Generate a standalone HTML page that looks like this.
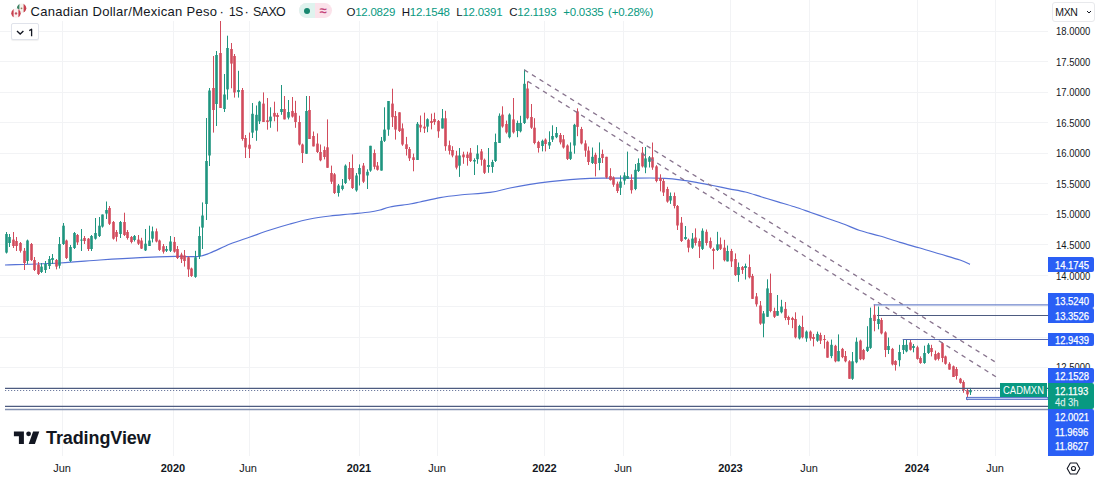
<!DOCTYPE html>
<html><head><meta charset="utf-8"><style>
html,body{margin:0;padding:0;background:#fff;}
body{width:1101px;height:484px;position:relative;overflow:hidden;font-family:"Liberation Sans", sans-serif;color:#131722;}
.a{position:absolute;white-space:nowrap;}
.lab{position:absolute;left:1048px;width:45.8px;height:15px;background:#2a5ff5;color:#fff;-webkit-text-stroke:0.25px currentColor;font-size:11px;line-height:15px;text-align:left;border-radius:0 2px 2px 0;}
.lab div, .lab span{}
.t{display:inline-block;transform:scaleX(0.86);transform-origin:0 50%;padding-left:8px;white-space:nowrap;position:relative;top:0.7px}
.ax{position:absolute;font-size:11px;line-height:12px;color:#131722;text-align:center;width:40px;}
.py{position:absolute;left:1056px;font-size:11px;line-height:12px;color:#131722;transform:scaleX(0.86);transform-origin:0 50%;}
</style></head><body>
<svg class="a" style="left:0;top:0" width="1101" height="484" viewBox="0 0 1101 484">
<line x1="0" y1="31.5" x2="1048" y2="31.5" stroke="#f2f3f5" stroke-width="1"/>
<line x1="0" y1="61.5" x2="1048" y2="61.5" stroke="#f2f3f5" stroke-width="1"/>
<line x1="0" y1="92.5" x2="1048" y2="92.5" stroke="#f2f3f5" stroke-width="1"/>
<line x1="0" y1="122.5" x2="1048" y2="122.5" stroke="#f2f3f5" stroke-width="1"/>
<line x1="0" y1="153.5" x2="1048" y2="153.5" stroke="#f2f3f5" stroke-width="1"/>
<line x1="0" y1="183.5" x2="1048" y2="183.5" stroke="#f2f3f5" stroke-width="1"/>
<line x1="0" y1="214.5" x2="1048" y2="214.5" stroke="#f2f3f5" stroke-width="1"/>
<line x1="0" y1="244.5" x2="1048" y2="244.5" stroke="#f2f3f5" stroke-width="1"/>
<line x1="0" y1="275.5" x2="1048" y2="275.5" stroke="#f2f3f5" stroke-width="1"/>
<line x1="0" y1="306.5" x2="1048" y2="306.5" stroke="#f2f3f5" stroke-width="1"/>
<line x1="0" y1="337.5" x2="1048" y2="337.5" stroke="#f2f3f5" stroke-width="1"/>
<line x1="0" y1="367.5" x2="1048" y2="367.5" stroke="#f2f3f5" stroke-width="1"/>
<line x1="62.5" y1="0" x2="62.5" y2="456" stroke="#f2f3f5" stroke-width="1"/>
<line x1="173.5" y1="0" x2="173.5" y2="456" stroke="#f2f3f5" stroke-width="1"/>
<line x1="249.5" y1="0" x2="249.5" y2="456" stroke="#f2f3f5" stroke-width="1"/>
<line x1="359.5" y1="0" x2="359.5" y2="456" stroke="#f2f3f5" stroke-width="1"/>
<line x1="437.5" y1="0" x2="437.5" y2="456" stroke="#f2f3f5" stroke-width="1"/>
<line x1="544.5" y1="0" x2="544.5" y2="456" stroke="#f2f3f5" stroke-width="1"/>
<line x1="623.5" y1="0" x2="623.5" y2="456" stroke="#f2f3f5" stroke-width="1"/>
<line x1="730.5" y1="0" x2="730.5" y2="456" stroke="#f2f3f5" stroke-width="1"/>
<line x1="809.5" y1="0" x2="809.5" y2="456" stroke="#f2f3f5" stroke-width="1"/>
<line x1="917.5" y1="0" x2="917.5" y2="456" stroke="#f2f3f5" stroke-width="1"/>
<line x1="995.5" y1="0" x2="995.5" y2="456" stroke="#f2f3f5" stroke-width="1"/>
<path fill="none" stroke="#5672d6" stroke-width="1.2" d="M5,265 C14.17,264.67 44.17,263.83 60,263 C75.83,262.17 86.67,260.90 100,260 C113.33,259.10 127.33,258.20 140,257.6 C152.67,257.00 166.33,256.58 176,256.4 C185.67,256.22 192.33,257.07 198,256.5 C203.67,255.93 204.67,255.08 210,253 C215.33,250.92 223.33,246.67 230,244 C236.67,241.33 243.33,239.33 250,237 C256.67,234.67 263.33,232.17 270,230 C276.67,227.83 283.33,225.83 290,224 C296.67,222.17 303.33,220.33 310,219 C316.67,217.67 323.33,216.83 330,216 C336.67,215.17 343.33,214.67 350,214 C356.67,213.33 365.00,212.67 370,212 C375.00,211.33 376.67,210.83 380,210 C383.33,209.17 385.00,208.00 390,207 C395.00,206.00 405.00,204.83 410,204 C415.00,203.17 415.00,203.07 420,202 C425.00,200.93 433.33,198.77 440,197.6 C446.67,196.43 451.67,195.87 460,195 C468.33,194.13 481.67,193.57 490,192.4 C498.33,191.23 503.33,189.33 510,188 C516.67,186.67 523.33,185.47 530,184.4 C536.67,183.33 543.33,182.40 550,181.6 C556.67,180.80 563.33,180.13 570,179.6 C576.67,179.07 584.00,178.63 590,178.4 C596.00,178.17 601.00,178.23 606,178.2 C611.00,178.17 612.67,178.23 620,178.2 C627.33,178.17 642.50,177.97 650,178 C657.50,178.03 660.00,178.10 665,178.4 C670.00,178.70 674.78,179.15 680,179.8 C685.22,180.45 690.85,181.35 696.3,182.3 C701.75,183.25 707.25,184.42 712.7,185.5 C718.15,186.58 723.55,187.72 729,188.8 C734.45,189.88 739.95,190.63 745.4,192 C750.85,193.37 756.27,195.35 761.7,197 C767.13,198.65 772.55,200.27 778,201.9 C783.45,203.53 788.93,205.03 794.4,206.8 C799.87,208.57 805.35,210.60 810.8,212.5 C816.25,214.40 821.65,216.28 827.1,218.2 C832.55,220.12 838.05,221.95 843.5,224 C848.95,226.05 853.72,228.50 859.8,230.5 C865.88,232.50 873.30,234.02 880,236 C886.70,237.98 893.33,240.40 900,242.4 C906.67,244.40 913.33,246.07 920,248 C926.67,249.93 933.33,252.00 940,254 C946.67,256.00 955.00,258.27 960,260 C965.00,261.73 968.33,263.67 970,264.4"/>
<line x1="970.5" y1="387.9" x2="970.5" y2="395.0" stroke="#1f957f" stroke-width="1"/>
<rect x="969.2" y="390.0" width="2.6" height="2.3000000000000114" fill="#1f957f"/>
<line x1="967.5" y1="388.6" x2="967.5" y2="400.2" stroke="#d24b5c" stroke-width="1"/>
<rect x="966.2" y="390.3" width="2.6" height="4.099999999999966" fill="#d24b5c"/>
<line x1="963.5" y1="380.4" x2="963.5" y2="392.8" stroke="#d24b5c" stroke-width="1"/>
<rect x="962.2" y="382.0" width="2.6" height="8.300000000000011" fill="#d24b5c"/>
<line x1="960.5" y1="377.9" x2="960.5" y2="383.7" stroke="#d24b5c" stroke-width="1"/>
<rect x="959.2" y="378.7" width="2.6" height="4.199999999999989" fill="#d24b5c"/>
<line x1="956.5" y1="367.0" x2="956.5" y2="379.5" stroke="#d24b5c" stroke-width="1"/>
<rect x="955.2" y="369.0" width="2.6" height="7.0" fill="#d24b5c"/>
<line x1="953.5" y1="365.5" x2="953.5" y2="377.0" stroke="#d24b5c" stroke-width="1"/>
<rect x="952.2" y="366.3" width="2.6" height="10.699999999999989" fill="#d24b5c"/>
<line x1="949.5" y1="362.2" x2="949.5" y2="369.6" stroke="#d24b5c" stroke-width="1"/>
<rect x="948.2" y="363.8" width="2.6" height="5.800000000000011" fill="#d24b5c"/>
<line x1="945.5" y1="355.6" x2="945.5" y2="364.7" stroke="#d24b5c" stroke-width="1"/>
<rect x="944.2" y="356.4" width="2.6" height="7.400000000000034" fill="#d24b5c"/>
<line x1="942.5" y1="342.4" x2="942.5" y2="362.2" stroke="#d24b5c" stroke-width="1"/>
<rect x="941.2" y="343.2" width="2.6" height="14.800000000000011" fill="#d24b5c"/>
<line x1="938.5" y1="352.3" x2="938.5" y2="360.5" stroke="#d24b5c" stroke-width="1"/>
<rect x="937.2" y="353.0" width="2.6" height="5.899999999999977" fill="#d24b5c"/>
<line x1="935.5" y1="350.6" x2="935.5" y2="360.5" stroke="#d24b5c" stroke-width="1"/>
<rect x="934.2" y="354.0" width="2.6" height="5.699999999999989" fill="#d24b5c"/>
<line x1="931.5" y1="344.8" x2="931.5" y2="356.4" stroke="#d24b5c" stroke-width="1"/>
<rect x="930.2" y="348.0" width="2.6" height="4.0" fill="#d24b5c"/>
<line x1="928.5" y1="343.2" x2="928.5" y2="354.0" stroke="#1f957f" stroke-width="1"/>
<rect x="927.2" y="344.8" width="2.6" height="8.199999999999989" fill="#1f957f"/>
<line x1="924.5" y1="345.7" x2="924.5" y2="363.8" stroke="#1f957f" stroke-width="1"/>
<rect x="923.2" y="353.0" width="2.6" height="10.0" fill="#1f957f"/>
<line x1="920.5" y1="356.4" x2="920.5" y2="363.8" stroke="#d24b5c" stroke-width="1"/>
<rect x="919.2" y="358.0" width="2.6" height="5.0" fill="#d24b5c"/>
<line x1="917.5" y1="345.7" x2="917.5" y2="359.7" stroke="#d24b5c" stroke-width="1"/>
<rect x="916.2" y="347.3" width="2.6" height="11.599999999999966" fill="#d24b5c"/>
<line x1="913.5" y1="344.0" x2="913.5" y2="352.3" stroke="#1f957f" stroke-width="1"/>
<rect x="912.2" y="346.0" width="2.6" height="2.0" fill="#1f957f"/>
<line x1="910.5" y1="339.9" x2="910.5" y2="350.6" stroke="#d24b5c" stroke-width="1"/>
<rect x="909.2" y="342.4" width="2.6" height="7.400000000000034" fill="#d24b5c"/>
<line x1="906.5" y1="339.0" x2="906.5" y2="352.3" stroke="#1f957f" stroke-width="1"/>
<rect x="905.2" y="344.8" width="2.6" height="6.599999999999966" fill="#1f957f"/>
<line x1="903.5" y1="339.6" x2="903.5" y2="354.0" stroke="#1f957f" stroke-width="1"/>
<rect x="902.2" y="345.0" width="2.6" height="5.0" fill="#1f957f"/>
<line x1="899.5" y1="344.8" x2="899.5" y2="366.4" stroke="#1f957f" stroke-width="1"/>
<rect x="898.2" y="352.0" width="2.6" height="8.199999999999989" fill="#1f957f"/>
<line x1="895.5" y1="360.2" x2="895.5" y2="370.6" stroke="#d24b5c" stroke-width="1"/>
<rect x="894.2" y="361.0" width="2.6" height="4.0" fill="#d24b5c"/>
<line x1="892.5" y1="347.9" x2="892.5" y2="365.4" stroke="#d24b5c" stroke-width="1"/>
<rect x="891.2" y="348.9" width="2.6" height="15.5" fill="#d24b5c"/>
<line x1="888.5" y1="337.5" x2="888.5" y2="354.0" stroke="#1f957f" stroke-width="1"/>
<rect x="887.2" y="346.0" width="2.6" height="4.0" fill="#1f957f"/>
<line x1="885.5" y1="331.3" x2="885.5" y2="357.1" stroke="#d24b5c" stroke-width="1"/>
<rect x="884.2" y="332.4" width="2.6" height="17.600000000000023" fill="#d24b5c"/>
<line x1="881.5" y1="317.9" x2="881.5" y2="334.4" stroke="#d24b5c" stroke-width="1"/>
<rect x="880.2" y="320.0" width="2.6" height="13.399999999999977" fill="#d24b5c"/>
<line x1="878.5" y1="306.5" x2="878.5" y2="329.3" stroke="#1f957f" stroke-width="1"/>
<rect x="877.2" y="319.0" width="2.6" height="5.0" fill="#1f957f"/>
<line x1="874.5" y1="304.5" x2="874.5" y2="331.3" stroke="#d24b5c" stroke-width="1"/>
<rect x="873.2" y="314.8" width="2.6" height="6.199999999999989" fill="#d24b5c"/>
<line x1="870.5" y1="307.6" x2="870.5" y2="348.9" stroke="#1f957f" stroke-width="1"/>
<rect x="869.2" y="317.9" width="2.6" height="30.0" fill="#1f957f"/>
<line x1="867.5" y1="326.2" x2="867.5" y2="352.0" stroke="#1f957f" stroke-width="1"/>
<rect x="866.2" y="346.8" width="2.6" height="4.199999999999989" fill="#1f957f"/>
<line x1="863.5" y1="348.9" x2="863.5" y2="360.2" stroke="#d24b5c" stroke-width="1"/>
<rect x="862.2" y="350.0" width="2.6" height="9.199999999999989" fill="#d24b5c"/>
<line x1="860.5" y1="339.6" x2="860.5" y2="360.2" stroke="#d24b5c" stroke-width="1"/>
<rect x="859.2" y="340.6" width="2.6" height="18.599999999999966" fill="#d24b5c"/>
<line x1="856.5" y1="337.5" x2="856.5" y2="363.3" stroke="#1f957f" stroke-width="1"/>
<rect x="855.2" y="341.7" width="2.6" height="20.600000000000023" fill="#1f957f"/>
<line x1="852.5" y1="352.0" x2="852.5" y2="379.9" stroke="#1f957f" stroke-width="1"/>
<rect x="851.2" y="361.3" width="2.6" height="17.5" fill="#1f957f"/>
<line x1="849.5" y1="360.2" x2="849.5" y2="378.8" stroke="#d24b5c" stroke-width="1"/>
<rect x="848.2" y="361.3" width="2.6" height="17.5" fill="#d24b5c"/>
<line x1="845.5" y1="351.0" x2="845.5" y2="362.3" stroke="#d24b5c" stroke-width="1"/>
<rect x="844.2" y="356.0" width="2.6" height="5.300000000000011" fill="#d24b5c"/>
<line x1="842.5" y1="347.9" x2="842.5" y2="358.2" stroke="#d24b5c" stroke-width="1"/>
<rect x="841.2" y="348.9" width="2.6" height="8.200000000000045" fill="#d24b5c"/>
<line x1="838.5" y1="334.4" x2="838.5" y2="361.3" stroke="#1f957f" stroke-width="1"/>
<rect x="837.2" y="351.0" width="2.6" height="10.300000000000011" fill="#1f957f"/>
<line x1="835.5" y1="344.8" x2="835.5" y2="362.3" stroke="#d24b5c" stroke-width="1"/>
<rect x="834.2" y="345.8" width="2.6" height="15.5" fill="#d24b5c"/>
<line x1="831.5" y1="339.6" x2="831.5" y2="358.2" stroke="#1f957f" stroke-width="1"/>
<rect x="830.2" y="344.8" width="2.6" height="11.300000000000011" fill="#1f957f"/>
<line x1="827.5" y1="340.7" x2="827.5" y2="357.7" stroke="#d24b5c" stroke-width="1"/>
<rect x="826.2" y="341.8" width="2.6" height="15.899999999999977" fill="#d24b5c"/>
<line x1="824.5" y1="335.0" x2="824.5" y2="348.6" stroke="#d24b5c" stroke-width="1"/>
<rect x="823.2" y="339.0" width="2.6" height="1.0" fill="#d24b5c"/>
<line x1="820.5" y1="332.7" x2="820.5" y2="344.0" stroke="#d24b5c" stroke-width="1"/>
<rect x="819.2" y="335.0" width="2.6" height="5.699999999999989" fill="#d24b5c"/>
<line x1="817.5" y1="331.6" x2="817.5" y2="341.8" stroke="#1f957f" stroke-width="1"/>
<rect x="816.2" y="333.9" width="2.6" height="6.800000000000011" fill="#1f957f"/>
<line x1="813.5" y1="333.9" x2="813.5" y2="346.4" stroke="#d24b5c" stroke-width="1"/>
<rect x="812.2" y="337.0" width="2.6" height="2.0" fill="#d24b5c"/>
<line x1="810.5" y1="330.5" x2="810.5" y2="340.7" stroke="#d24b5c" stroke-width="1"/>
<rect x="809.2" y="331.6" width="2.6" height="6.7999999999999545" fill="#d24b5c"/>
<line x1="806.5" y1="330.5" x2="806.5" y2="341.8" stroke="#1f957f" stroke-width="1"/>
<rect x="805.2" y="331.6" width="2.6" height="6.7999999999999545" fill="#1f957f"/>
<line x1="802.5" y1="315.7" x2="802.5" y2="338.4" stroke="#d24b5c" stroke-width="1"/>
<rect x="801.2" y="327.0" width="2.6" height="10.300000000000011" fill="#d24b5c"/>
<line x1="799.5" y1="324.8" x2="799.5" y2="339.5" stroke="#1f957f" stroke-width="1"/>
<rect x="798.2" y="326.0" width="2.6" height="12.399999999999977" fill="#1f957f"/>
<line x1="795.5" y1="312.3" x2="795.5" y2="338.4" stroke="#d24b5c" stroke-width="1"/>
<rect x="794.2" y="319.0" width="2.6" height="18.30000000000001" fill="#d24b5c"/>
<line x1="792.5" y1="316.8" x2="792.5" y2="328.2" stroke="#d24b5c" stroke-width="1"/>
<rect x="791.2" y="318.0" width="2.6" height="2.0" fill="#d24b5c"/>
<line x1="788.5" y1="315.7" x2="788.5" y2="324.8" stroke="#d24b5c" stroke-width="1"/>
<rect x="787.2" y="317.0" width="2.6" height="3.0" fill="#d24b5c"/>
<line x1="785.5" y1="302.0" x2="785.5" y2="320.2" stroke="#d24b5c" stroke-width="1"/>
<rect x="784.2" y="308.9" width="2.6" height="9.100000000000023" fill="#d24b5c"/>
<line x1="781.5" y1="299.8" x2="781.5" y2="313.4" stroke="#1f957f" stroke-width="1"/>
<rect x="780.2" y="306.6" width="2.6" height="5.699999999999989" fill="#1f957f"/>
<line x1="777.5" y1="295.0" x2="777.5" y2="315.7" stroke="#1f957f" stroke-width="1"/>
<rect x="776.2" y="311.0" width="2.6" height="4.699999999999989" fill="#1f957f"/>
<line x1="774.5" y1="307.7" x2="774.5" y2="318.0" stroke="#d24b5c" stroke-width="1"/>
<rect x="773.2" y="311.0" width="2.6" height="5.800000000000011" fill="#d24b5c"/>
<line x1="770.5" y1="273.6" x2="770.5" y2="312.3" stroke="#d24b5c" stroke-width="1"/>
<rect x="769.2" y="293.0" width="2.6" height="18.0" fill="#d24b5c"/>
<line x1="767.5" y1="279.3" x2="767.5" y2="316.8" stroke="#1f957f" stroke-width="1"/>
<rect x="766.2" y="288.4" width="2.6" height="28.400000000000034" fill="#1f957f"/>
<line x1="763.5" y1="311.0" x2="763.5" y2="337.3" stroke="#1f957f" stroke-width="1"/>
<rect x="762.2" y="313.4" width="2.6" height="10.200000000000045" fill="#1f957f"/>
<line x1="760.5" y1="301.0" x2="760.5" y2="324.8" stroke="#d24b5c" stroke-width="1"/>
<rect x="759.2" y="305.5" width="2.6" height="18.100000000000023" fill="#d24b5c"/>
<line x1="756.5" y1="293.0" x2="756.5" y2="306.6" stroke="#d24b5c" stroke-width="1"/>
<rect x="755.2" y="296.4" width="2.6" height="7.900000000000034" fill="#d24b5c"/>
<line x1="752.5" y1="273.9" x2="752.5" y2="298.9" stroke="#d24b5c" stroke-width="1"/>
<rect x="751.2" y="276.0" width="2.6" height="22.899999999999977" fill="#d24b5c"/>
<line x1="749.5" y1="254.5" x2="749.5" y2="278.4" stroke="#d24b5c" stroke-width="1"/>
<rect x="748.2" y="267.0" width="2.6" height="10.300000000000011" fill="#d24b5c"/>
<line x1="745.5" y1="263.6" x2="745.5" y2="279.5" stroke="#1f957f" stroke-width="1"/>
<rect x="744.2" y="266.0" width="2.6" height="2.0" fill="#1f957f"/>
<line x1="742.5" y1="266.0" x2="742.5" y2="273.9" stroke="#d24b5c" stroke-width="1"/>
<rect x="741.2" y="267.0" width="2.6" height="3.0" fill="#d24b5c"/>
<line x1="738.5" y1="262.5" x2="738.5" y2="281.8" stroke="#1f957f" stroke-width="1"/>
<rect x="737.2" y="267.0" width="2.6" height="8.0" fill="#1f957f"/>
<line x1="735.5" y1="253.4" x2="735.5" y2="276.0" stroke="#d24b5c" stroke-width="1"/>
<rect x="734.2" y="259.0" width="2.6" height="16.0" fill="#d24b5c"/>
<line x1="731.5" y1="248.9" x2="731.5" y2="267.0" stroke="#d24b5c" stroke-width="1"/>
<rect x="730.2" y="251.0" width="2.6" height="10.399999999999977" fill="#d24b5c"/>
<line x1="727.5" y1="245.5" x2="727.5" y2="261.4" stroke="#1f957f" stroke-width="1"/>
<rect x="726.2" y="251.0" width="2.6" height="10.399999999999977" fill="#1f957f"/>
<line x1="724.5" y1="239.8" x2="724.5" y2="261.4" stroke="#d24b5c" stroke-width="1"/>
<rect x="723.2" y="247.7" width="2.6" height="12.5" fill="#d24b5c"/>
<line x1="720.5" y1="237.5" x2="720.5" y2="250.0" stroke="#d24b5c" stroke-width="1"/>
<rect x="719.2" y="244.3" width="2.6" height="4.599999999999994" fill="#d24b5c"/>
<line x1="717.5" y1="231.8" x2="717.5" y2="251.0" stroke="#1f957f" stroke-width="1"/>
<rect x="716.2" y="244.3" width="2.6" height="5.699999999999989" fill="#1f957f"/>
<line x1="713.5" y1="247.7" x2="713.5" y2="269.3" stroke="#d24b5c" stroke-width="1"/>
<rect x="712.2" y="249.0" width="2.6" height="2.0" fill="#d24b5c"/>
<line x1="710.5" y1="237.5" x2="710.5" y2="248.9" stroke="#d24b5c" stroke-width="1"/>
<rect x="709.2" y="241.0" width="2.6" height="6.699999999999989" fill="#d24b5c"/>
<line x1="706.5" y1="229.5" x2="706.5" y2="245.5" stroke="#d24b5c" stroke-width="1"/>
<rect x="705.2" y="231.8" width="2.6" height="11.199999999999989" fill="#d24b5c"/>
<line x1="702.5" y1="228.4" x2="702.5" y2="250.0" stroke="#1f957f" stroke-width="1"/>
<rect x="701.2" y="230.7" width="2.6" height="18.200000000000017" fill="#1f957f"/>
<line x1="699.5" y1="238.6" x2="699.5" y2="258.0" stroke="#d24b5c" stroke-width="1"/>
<rect x="698.2" y="241.0" width="2.6" height="5.599999999999994" fill="#d24b5c"/>
<line x1="695.5" y1="228.4" x2="695.5" y2="245.5" stroke="#d24b5c" stroke-width="1"/>
<rect x="694.2" y="237.5" width="2.6" height="5.5" fill="#d24b5c"/>
<line x1="692.5" y1="233.0" x2="692.5" y2="248.9" stroke="#1f957f" stroke-width="1"/>
<rect x="691.2" y="238.6" width="2.6" height="9.099999999999994" fill="#1f957f"/>
<line x1="688.5" y1="238.6" x2="688.5" y2="252.3" stroke="#d24b5c" stroke-width="1"/>
<rect x="687.2" y="239.8" width="2.6" height="7.899999999999977" fill="#d24b5c"/>
<line x1="685.5" y1="226.0" x2="685.5" y2="239.8" stroke="#1f957f" stroke-width="1"/>
<rect x="684.2" y="237.0" width="2.6" height="2.0" fill="#1f957f"/>
<line x1="681.5" y1="217.0" x2="681.5" y2="242.0" stroke="#d24b5c" stroke-width="1"/>
<rect x="680.2" y="222.7" width="2.6" height="18.30000000000001" fill="#d24b5c"/>
<line x1="677.5" y1="205.0" x2="677.5" y2="230.0" stroke="#d24b5c" stroke-width="1"/>
<rect x="676.2" y="206.0" width="2.6" height="19.5" fill="#d24b5c"/>
<line x1="674.5" y1="192.5" x2="674.5" y2="208.4" stroke="#d24b5c" stroke-width="1"/>
<rect x="673.2" y="196.0" width="2.6" height="10.0" fill="#d24b5c"/>
<line x1="670.5" y1="192.5" x2="670.5" y2="203.9" stroke="#1f957f" stroke-width="1"/>
<rect x="669.2" y="196.0" width="2.6" height="4.5" fill="#1f957f"/>
<line x1="667.5" y1="186.8" x2="667.5" y2="202.7" stroke="#d24b5c" stroke-width="1"/>
<rect x="666.2" y="189.0" width="2.6" height="12.599999999999994" fill="#d24b5c"/>
<line x1="663.5" y1="178.9" x2="663.5" y2="196.0" stroke="#d24b5c" stroke-width="1"/>
<rect x="662.2" y="181.0" width="2.6" height="11.5" fill="#d24b5c"/>
<line x1="660.5" y1="174.3" x2="660.5" y2="191.4" stroke="#d24b5c" stroke-width="1"/>
<rect x="659.2" y="178.0" width="2.6" height="3.0" fill="#d24b5c"/>
<line x1="656.5" y1="165.2" x2="656.5" y2="182.3" stroke="#d24b5c" stroke-width="1"/>
<rect x="655.2" y="166.4" width="2.6" height="14.599999999999994" fill="#d24b5c"/>
<line x1="652.5" y1="142.5" x2="652.5" y2="169.8" stroke="#d24b5c" stroke-width="1"/>
<rect x="651.2" y="157.3" width="2.6" height="10.199999999999989" fill="#d24b5c"/>
<line x1="649.5" y1="156.0" x2="649.5" y2="167.5" stroke="#1f957f" stroke-width="1"/>
<rect x="648.2" y="157.3" width="2.6" height="4.5" fill="#1f957f"/>
<line x1="645.5" y1="147.0" x2="645.5" y2="173.2" stroke="#1f957f" stroke-width="1"/>
<rect x="644.2" y="158.4" width="2.6" height="9.099999999999994" fill="#1f957f"/>
<line x1="642.5" y1="147.0" x2="642.5" y2="167.5" stroke="#d24b5c" stroke-width="1"/>
<rect x="641.2" y="152.7" width="2.6" height="13.700000000000017" fill="#d24b5c"/>
<line x1="638.5" y1="158.4" x2="638.5" y2="172.0" stroke="#1f957f" stroke-width="1"/>
<rect x="637.2" y="163.0" width="2.6" height="8.0" fill="#1f957f"/>
<line x1="635.5" y1="164.0" x2="635.5" y2="190.2" stroke="#1f957f" stroke-width="1"/>
<rect x="634.2" y="169.8" width="2.6" height="19.19999999999999" fill="#1f957f"/>
<line x1="631.5" y1="174.3" x2="631.5" y2="193.6" stroke="#d24b5c" stroke-width="1"/>
<rect x="630.2" y="180.0" width="2.6" height="10.199999999999989" fill="#d24b5c"/>
<line x1="627.5" y1="151.6" x2="627.5" y2="178.9" stroke="#1f957f" stroke-width="1"/>
<rect x="626.2" y="176.0" width="2.6" height="2.9000000000000057" fill="#1f957f"/>
<line x1="624.5" y1="172.3" x2="624.5" y2="184.7" stroke="#1f957f" stroke-width="1"/>
<rect x="623.2" y="175.4" width="2.6" height="5.199999999999989" fill="#1f957f"/>
<line x1="620.5" y1="175.4" x2="620.5" y2="195.0" stroke="#1f957f" stroke-width="1"/>
<rect x="619.2" y="181.6" width="2.6" height="6.200000000000017" fill="#1f957f"/>
<line x1="617.5" y1="181.6" x2="617.5" y2="193.0" stroke="#d24b5c" stroke-width="1"/>
<rect x="616.2" y="183.7" width="2.6" height="7.300000000000011" fill="#d24b5c"/>
<line x1="613.5" y1="176.4" x2="613.5" y2="186.8" stroke="#d24b5c" stroke-width="1"/>
<rect x="612.2" y="177.5" width="2.6" height="7.199999999999989" fill="#d24b5c"/>
<line x1="610.5" y1="168.2" x2="610.5" y2="180.6" stroke="#d24b5c" stroke-width="1"/>
<rect x="609.2" y="176.0" width="2.6" height="4.0" fill="#d24b5c"/>
<line x1="606.5" y1="156.8" x2="606.5" y2="178.5" stroke="#d24b5c" stroke-width="1"/>
<rect x="605.2" y="156.8" width="2.6" height="20.69999999999999" fill="#d24b5c"/>
<line x1="602.5" y1="149.6" x2="602.5" y2="163.0" stroke="#d24b5c" stroke-width="1"/>
<rect x="601.2" y="154.0" width="2.6" height="4.0" fill="#d24b5c"/>
<line x1="599.5" y1="142.4" x2="599.5" y2="170.2" stroke="#1f957f" stroke-width="1"/>
<rect x="598.2" y="157.9" width="2.6" height="5.099999999999994" fill="#1f957f"/>
<line x1="595.5" y1="152.7" x2="595.5" y2="176.4" stroke="#d24b5c" stroke-width="1"/>
<rect x="594.2" y="154.8" width="2.6" height="9.199999999999989" fill="#d24b5c"/>
<line x1="592.5" y1="147.5" x2="592.5" y2="164.0" stroke="#1f957f" stroke-width="1"/>
<rect x="591.2" y="156.8" width="2.6" height="6.199999999999989" fill="#1f957f"/>
<line x1="588.5" y1="146.5" x2="588.5" y2="165.0" stroke="#d24b5c" stroke-width="1"/>
<rect x="587.2" y="150.6" width="2.6" height="11.400000000000006" fill="#d24b5c"/>
<line x1="585.5" y1="140.3" x2="585.5" y2="156.8" stroke="#d24b5c" stroke-width="1"/>
<rect x="584.2" y="143.4" width="2.6" height="7.199999999999989" fill="#d24b5c"/>
<line x1="581.5" y1="126.9" x2="581.5" y2="144.4" stroke="#d24b5c" stroke-width="1"/>
<rect x="580.2" y="129.0" width="2.6" height="14.400000000000006" fill="#d24b5c"/>
<line x1="577.5" y1="108.3" x2="577.5" y2="136.2" stroke="#d24b5c" stroke-width="1"/>
<rect x="576.2" y="111.4" width="2.6" height="15.5" fill="#d24b5c"/>
<line x1="574.5" y1="123.8" x2="574.5" y2="153.7" stroke="#1f957f" stroke-width="1"/>
<rect x="573.2" y="124.8" width="2.6" height="20.700000000000003" fill="#1f957f"/>
<line x1="570.5" y1="142.4" x2="570.5" y2="160.0" stroke="#1f957f" stroke-width="1"/>
<rect x="569.2" y="151.7" width="2.6" height="7.200000000000017" fill="#1f957f"/>
<line x1="567.5" y1="144.4" x2="567.5" y2="160.0" stroke="#d24b5c" stroke-width="1"/>
<rect x="566.2" y="145.5" width="2.6" height="13.400000000000006" fill="#d24b5c"/>
<line x1="563.5" y1="135.0" x2="563.5" y2="148.6" stroke="#d24b5c" stroke-width="1"/>
<rect x="562.2" y="139.3" width="2.6" height="8.199999999999989" fill="#d24b5c"/>
<line x1="560.5" y1="133.0" x2="560.5" y2="144.4" stroke="#d24b5c" stroke-width="1"/>
<rect x="559.2" y="135.0" width="2.6" height="7.400000000000006" fill="#d24b5c"/>
<line x1="556.5" y1="127.0" x2="556.5" y2="138.2" stroke="#1f957f" stroke-width="1"/>
<rect x="555.2" y="133.0" width="2.6" height="4.199999999999989" fill="#1f957f"/>
<line x1="552.5" y1="125.3" x2="552.5" y2="142.0" stroke="#1f957f" stroke-width="1"/>
<rect x="551.2" y="136.0" width="2.6" height="3.5999999999999943" fill="#1f957f"/>
<line x1="549.5" y1="131.3" x2="549.5" y2="149.0" stroke="#1f957f" stroke-width="1"/>
<rect x="548.2" y="142.0" width="2.6" height="3.5" fill="#1f957f"/>
<line x1="545.5" y1="138.4" x2="545.5" y2="151.4" stroke="#d24b5c" stroke-width="1"/>
<rect x="544.2" y="139.6" width="2.6" height="4.400000000000006" fill="#d24b5c"/>
<line x1="542.5" y1="139.6" x2="542.5" y2="151.4" stroke="#1f957f" stroke-width="1"/>
<rect x="541.2" y="140.8" width="2.6" height="5.199999999999989" fill="#1f957f"/>
<line x1="538.5" y1="140.8" x2="538.5" y2="152.6" stroke="#d24b5c" stroke-width="1"/>
<rect x="537.2" y="142.0" width="2.6" height="6.0" fill="#d24b5c"/>
<line x1="534.5" y1="118.2" x2="534.5" y2="144.3" stroke="#d24b5c" stroke-width="1"/>
<rect x="533.2" y="127.7" width="2.6" height="15.299999999999997" fill="#d24b5c"/>
<line x1="531.5" y1="104.0" x2="531.5" y2="128.9" stroke="#d24b5c" stroke-width="1"/>
<rect x="530.2" y="117.0" width="2.6" height="10.700000000000003" fill="#d24b5c"/>
<line x1="527.5" y1="81.4" x2="527.5" y2="119.4" stroke="#d24b5c" stroke-width="1"/>
<rect x="526.2" y="88.5" width="2.6" height="29.700000000000003" fill="#d24b5c"/>
<line x1="524.5" y1="69.5" x2="524.5" y2="124.0" stroke="#1f957f" stroke-width="1"/>
<rect x="523.2" y="83.8" width="2.6" height="39.2" fill="#1f957f"/>
<line x1="520.5" y1="115.8" x2="520.5" y2="132.4" stroke="#1f957f" stroke-width="1"/>
<rect x="519.2" y="123.0" width="2.6" height="8.300000000000011" fill="#1f957f"/>
<line x1="517.5" y1="120.6" x2="517.5" y2="137.2" stroke="#1f957f" stroke-width="1"/>
<rect x="516.2" y="123.0" width="2.6" height="8.0" fill="#1f957f"/>
<line x1="513.5" y1="98.0" x2="513.5" y2="133.6" stroke="#d24b5c" stroke-width="1"/>
<rect x="512.2" y="119.4" width="2.6" height="13.0" fill="#d24b5c"/>
<line x1="509.5" y1="113.4" x2="509.5" y2="138.4" stroke="#1f957f" stroke-width="1"/>
<rect x="508.2" y="114.6" width="2.6" height="22.599999999999994" fill="#1f957f"/>
<line x1="506.5" y1="120.6" x2="506.5" y2="133.6" stroke="#d24b5c" stroke-width="1"/>
<rect x="505.2" y="124.0" width="2.6" height="8.400000000000006" fill="#d24b5c"/>
<line x1="502.5" y1="106.3" x2="502.5" y2="127.7" stroke="#d24b5c" stroke-width="1"/>
<rect x="501.2" y="114.6" width="2.6" height="11.900000000000006" fill="#d24b5c"/>
<line x1="499.5" y1="113.4" x2="499.5" y2="143.0" stroke="#1f957f" stroke-width="1"/>
<rect x="498.2" y="115.8" width="2.6" height="27.200000000000003" fill="#1f957f"/>
<line x1="495.5" y1="133.6" x2="495.5" y2="162.0" stroke="#1f957f" stroke-width="1"/>
<rect x="494.2" y="142.0" width="2.6" height="19.0" fill="#1f957f"/>
<line x1="492.5" y1="159.8" x2="492.5" y2="172.8" stroke="#1f957f" stroke-width="1"/>
<rect x="491.2" y="162.0" width="2.6" height="5.0" fill="#1f957f"/>
<line x1="488.5" y1="148.0" x2="488.5" y2="172.8" stroke="#1f957f" stroke-width="1"/>
<rect x="487.2" y="165.0" width="2.6" height="2.0" fill="#1f957f"/>
<line x1="484.5" y1="158.6" x2="484.5" y2="174.0" stroke="#d24b5c" stroke-width="1"/>
<rect x="483.2" y="159.8" width="2.6" height="13.0" fill="#d24b5c"/>
<line x1="481.5" y1="149.0" x2="481.5" y2="165.7" stroke="#d24b5c" stroke-width="1"/>
<rect x="480.2" y="151.4" width="2.6" height="8.400000000000006" fill="#d24b5c"/>
<line x1="477.5" y1="145.2" x2="477.5" y2="163.8" stroke="#1f957f" stroke-width="1"/>
<rect x="476.2" y="153.6" width="2.6" height="5.599999999999994" fill="#1f957f"/>
<line x1="474.5" y1="158.3" x2="474.5" y2="175.0" stroke="#1f957f" stroke-width="1"/>
<rect x="473.2" y="160.0" width="2.6" height="1.5" fill="#1f957f"/>
<line x1="470.5" y1="148.0" x2="470.5" y2="162.0" stroke="#d24b5c" stroke-width="1"/>
<rect x="469.2" y="152.7" width="2.6" height="8.300000000000011" fill="#d24b5c"/>
<line x1="467.5" y1="151.7" x2="467.5" y2="165.7" stroke="#d24b5c" stroke-width="1"/>
<rect x="466.2" y="154.5" width="2.6" height="3.5" fill="#d24b5c"/>
<line x1="463.5" y1="151.7" x2="463.5" y2="163.8" stroke="#d24b5c" stroke-width="1"/>
<rect x="462.2" y="154.5" width="2.6" height="2.8000000000000114" fill="#d24b5c"/>
<line x1="459.5" y1="148.0" x2="459.5" y2="176.9" stroke="#1f957f" stroke-width="1"/>
<rect x="458.2" y="155.5" width="2.6" height="10.199999999999989" fill="#1f957f"/>
<line x1="456.5" y1="150.8" x2="456.5" y2="169.4" stroke="#d24b5c" stroke-width="1"/>
<rect x="455.2" y="155.5" width="2.6" height="12.099999999999994" fill="#d24b5c"/>
<line x1="452.5" y1="146.2" x2="452.5" y2="157.3" stroke="#d24b5c" stroke-width="1"/>
<rect x="451.2" y="150.0" width="2.6" height="5.5" fill="#d24b5c"/>
<line x1="449.5" y1="140.6" x2="449.5" y2="154.5" stroke="#d24b5c" stroke-width="1"/>
<rect x="448.2" y="145.2" width="2.6" height="5.600000000000023" fill="#d24b5c"/>
<line x1="445.5" y1="110.8" x2="445.5" y2="150.8" stroke="#d24b5c" stroke-width="1"/>
<rect x="444.2" y="118.3" width="2.6" height="27.89999999999999" fill="#d24b5c"/>
<line x1="442.5" y1="109.0" x2="442.5" y2="128.5" stroke="#1f957f" stroke-width="1"/>
<rect x="441.2" y="118.3" width="2.6" height="10.200000000000003" fill="#1f957f"/>
<line x1="438.5" y1="120.0" x2="438.5" y2="137.8" stroke="#d24b5c" stroke-width="1"/>
<rect x="437.2" y="121.0" width="2.6" height="10.300000000000011" fill="#d24b5c"/>
<line x1="434.5" y1="112.7" x2="434.5" y2="124.8" stroke="#d24b5c" stroke-width="1"/>
<rect x="433.2" y="119.0" width="2.6" height="3.0" fill="#d24b5c"/>
<line x1="431.5" y1="113.6" x2="431.5" y2="129.4" stroke="#d24b5c" stroke-width="1"/>
<rect x="430.2" y="121.0" width="2.6" height="2.0" fill="#d24b5c"/>
<line x1="427.5" y1="118.3" x2="427.5" y2="132.2" stroke="#1f957f" stroke-width="1"/>
<rect x="426.2" y="119.2" width="2.6" height="7.3999999999999915" fill="#1f957f"/>
<line x1="424.5" y1="112.7" x2="424.5" y2="133.0" stroke="#d24b5c" stroke-width="1"/>
<rect x="423.2" y="126.6" width="2.6" height="1.9000000000000057" fill="#d24b5c"/>
<line x1="420.5" y1="115.5" x2="420.5" y2="132.2" stroke="#d24b5c" stroke-width="1"/>
<rect x="419.2" y="124.8" width="2.6" height="2.799999999999997" fill="#d24b5c"/>
<line x1="417.5" y1="122.0" x2="417.5" y2="160.0" stroke="#1f957f" stroke-width="1"/>
<rect x="416.2" y="123.8" width="2.6" height="36.2" fill="#1f957f"/>
<line x1="413.5" y1="153.6" x2="413.5" y2="171.3" stroke="#d24b5c" stroke-width="1"/>
<rect x="412.2" y="157.3" width="2.6" height="2.6999999999999886" fill="#d24b5c"/>
<line x1="409.5" y1="147.0" x2="409.5" y2="161.0" stroke="#d24b5c" stroke-width="1"/>
<rect x="408.2" y="149.0" width="2.6" height="9.300000000000011" fill="#d24b5c"/>
<line x1="406.5" y1="136.9" x2="406.5" y2="155.5" stroke="#d24b5c" stroke-width="1"/>
<rect x="405.2" y="144.3" width="2.6" height="4.699999999999989" fill="#d24b5c"/>
<line x1="402.5" y1="123.4" x2="402.5" y2="145.8" stroke="#d24b5c" stroke-width="1"/>
<rect x="401.2" y="128.4" width="2.6" height="16.099999999999994" fill="#d24b5c"/>
<line x1="399.5" y1="112.3" x2="399.5" y2="132.0" stroke="#d24b5c" stroke-width="1"/>
<rect x="398.2" y="112.3" width="2.6" height="18.700000000000003" fill="#d24b5c"/>
<line x1="395.5" y1="111.0" x2="395.5" y2="139.6" stroke="#d24b5c" stroke-width="1"/>
<rect x="394.2" y="116.0" width="2.6" height="13.599999999999994" fill="#d24b5c"/>
<line x1="392.5" y1="88.7" x2="392.5" y2="127.0" stroke="#d24b5c" stroke-width="1"/>
<rect x="391.2" y="103.6" width="2.6" height="13.600000000000009" fill="#d24b5c"/>
<line x1="388.5" y1="101.0" x2="388.5" y2="135.8" stroke="#1f957f" stroke-width="1"/>
<rect x="387.2" y="101.0" width="2.6" height="28.599999999999994" fill="#1f957f"/>
<line x1="384.5" y1="107.3" x2="384.5" y2="142.0" stroke="#1f957f" stroke-width="1"/>
<rect x="383.2" y="129.6" width="2.6" height="11.200000000000017" fill="#1f957f"/>
<line x1="381.5" y1="137.0" x2="381.5" y2="170.6" stroke="#1f957f" stroke-width="1"/>
<rect x="380.2" y="140.8" width="2.6" height="29.799999999999983" fill="#1f957f"/>
<line x1="377.5" y1="162.0" x2="377.5" y2="170.6" stroke="#d24b5c" stroke-width="1"/>
<rect x="376.2" y="165.6" width="2.6" height="4.200000000000017" fill="#d24b5c"/>
<line x1="374.5" y1="149.5" x2="374.5" y2="169.3" stroke="#d24b5c" stroke-width="1"/>
<rect x="373.2" y="153.0" width="2.6" height="13.800000000000011" fill="#d24b5c"/>
<line x1="370.5" y1="145.8" x2="370.5" y2="171.8" stroke="#1f957f" stroke-width="1"/>
<rect x="369.2" y="145.8" width="2.6" height="24.799999999999983" fill="#1f957f"/>
<line x1="367.5" y1="169.3" x2="367.5" y2="189.0" stroke="#1f957f" stroke-width="1"/>
<rect x="366.2" y="171.8" width="2.6" height="3.6999999999999886" fill="#1f957f"/>
<line x1="363.5" y1="163.0" x2="363.5" y2="183.0" stroke="#d24b5c" stroke-width="1"/>
<rect x="362.2" y="165.6" width="2.6" height="16.099999999999994" fill="#d24b5c"/>
<line x1="359.5" y1="164.4" x2="359.5" y2="185.5" stroke="#1f957f" stroke-width="1"/>
<rect x="358.2" y="168.0" width="2.6" height="6.300000000000011" fill="#1f957f"/>
<line x1="356.5" y1="173.0" x2="356.5" y2="191.7" stroke="#1f957f" stroke-width="1"/>
<rect x="355.2" y="175.5" width="2.6" height="14.900000000000006" fill="#1f957f"/>
<line x1="352.5" y1="154.4" x2="352.5" y2="189.0" stroke="#d24b5c" stroke-width="1"/>
<rect x="351.2" y="168.0" width="2.6" height="20.0" fill="#d24b5c"/>
<line x1="349.5" y1="162.0" x2="349.5" y2="180.5" stroke="#d24b5c" stroke-width="1"/>
<rect x="348.2" y="168.0" width="2.6" height="11.0" fill="#d24b5c"/>
<line x1="345.5" y1="164.4" x2="345.5" y2="184.0" stroke="#1f957f" stroke-width="1"/>
<rect x="344.2" y="165.6" width="2.6" height="17.400000000000006" fill="#1f957f"/>
<line x1="342.5" y1="179.0" x2="342.5" y2="190.4" stroke="#1f957f" stroke-width="1"/>
<rect x="341.2" y="185.5" width="2.6" height="3.5" fill="#1f957f"/>
<line x1="338.5" y1="184.0" x2="338.5" y2="196.6" stroke="#1f957f" stroke-width="1"/>
<rect x="337.2" y="185.5" width="2.6" height="7.5" fill="#1f957f"/>
<line x1="334.5" y1="173.0" x2="334.5" y2="194.0" stroke="#d24b5c" stroke-width="1"/>
<rect x="333.2" y="174.3" width="2.6" height="18.69999999999999" fill="#d24b5c"/>
<line x1="331.5" y1="165.6" x2="331.5" y2="184.0" stroke="#d24b5c" stroke-width="1"/>
<rect x="330.2" y="173.0" width="2.6" height="8.699999999999989" fill="#d24b5c"/>
<line x1="327.5" y1="119.4" x2="327.5" y2="167.8" stroke="#d24b5c" stroke-width="1"/>
<rect x="326.2" y="147.3" width="2.6" height="20.5" fill="#d24b5c"/>
<line x1="324.5" y1="146.4" x2="324.5" y2="159.4" stroke="#d24b5c" stroke-width="1"/>
<rect x="323.2" y="150.0" width="2.6" height="7.0" fill="#d24b5c"/>
<line x1="320.5" y1="144.5" x2="320.5" y2="161.3" stroke="#d24b5c" stroke-width="1"/>
<rect x="319.2" y="152.0" width="2.6" height="8.300000000000011" fill="#d24b5c"/>
<line x1="317.5" y1="133.4" x2="317.5" y2="153.0" stroke="#d24b5c" stroke-width="1"/>
<rect x="316.2" y="143.6" width="2.6" height="8.400000000000006" fill="#d24b5c"/>
<line x1="313.5" y1="131.5" x2="313.5" y2="146.4" stroke="#d24b5c" stroke-width="1"/>
<rect x="312.2" y="136.0" width="2.6" height="10.400000000000006" fill="#d24b5c"/>
<line x1="309.5" y1="96.0" x2="309.5" y2="139.0" stroke="#d24b5c" stroke-width="1"/>
<rect x="308.2" y="110.0" width="2.6" height="29.0" fill="#d24b5c"/>
<line x1="306.5" y1="96.0" x2="306.5" y2="153.8" stroke="#1f957f" stroke-width="1"/>
<rect x="305.2" y="111.0" width="2.6" height="42.80000000000001" fill="#1f957f"/>
<line x1="302.5" y1="143.6" x2="302.5" y2="163.0" stroke="#d24b5c" stroke-width="1"/>
<rect x="301.2" y="144.5" width="2.6" height="8.5" fill="#d24b5c"/>
<line x1="299.5" y1="115.7" x2="299.5" y2="145.5" stroke="#d24b5c" stroke-width="1"/>
<rect x="298.2" y="122.0" width="2.6" height="22.5" fill="#d24b5c"/>
<line x1="295.5" y1="100.8" x2="295.5" y2="127.8" stroke="#d24b5c" stroke-width="1"/>
<rect x="294.2" y="112.9" width="2.6" height="9.099999999999994" fill="#d24b5c"/>
<line x1="292.5" y1="97.0" x2="292.5" y2="117.6" stroke="#d24b5c" stroke-width="1"/>
<rect x="291.2" y="111.0" width="2.6" height="5.599999999999994" fill="#d24b5c"/>
<line x1="288.5" y1="100.0" x2="288.5" y2="119.4" stroke="#1f957f" stroke-width="1"/>
<rect x="287.2" y="112.0" width="2.6" height="5.599999999999994" fill="#1f957f"/>
<line x1="284.5" y1="96.0" x2="284.5" y2="119.4" stroke="#d24b5c" stroke-width="1"/>
<rect x="283.2" y="109.0" width="2.6" height="10.400000000000006" fill="#d24b5c"/>
<line x1="281.5" y1="85.0" x2="281.5" y2="114.8" stroke="#1f957f" stroke-width="1"/>
<rect x="280.2" y="109.0" width="2.6" height="3.0" fill="#1f957f"/>
<line x1="277.5" y1="112.9" x2="277.5" y2="131.5" stroke="#d24b5c" stroke-width="1"/>
<rect x="276.2" y="115.0" width="2.6" height="2.0" fill="#d24b5c"/>
<line x1="274.5" y1="101.7" x2="274.5" y2="121.3" stroke="#d24b5c" stroke-width="1"/>
<rect x="273.2" y="112.9" width="2.6" height="3.6999999999999886" fill="#d24b5c"/>
<line x1="270.5" y1="107.3" x2="270.5" y2="127.8" stroke="#1f957f" stroke-width="1"/>
<rect x="269.2" y="116.6" width="2.6" height="4.700000000000003" fill="#1f957f"/>
<line x1="267.5" y1="98.0" x2="267.5" y2="129.7" stroke="#d24b5c" stroke-width="1"/>
<rect x="266.2" y="120.3" width="2.6" height="1.7000000000000028" fill="#d24b5c"/>
<line x1="263.5" y1="92.4" x2="263.5" y2="122.0" stroke="#d24b5c" stroke-width="1"/>
<rect x="262.2" y="103.6" width="2.6" height="18.400000000000006" fill="#d24b5c"/>
<line x1="259.5" y1="100.8" x2="259.5" y2="124.0" stroke="#1f957f" stroke-width="1"/>
<rect x="258.2" y="101.7" width="2.6" height="19.599999999999994" fill="#1f957f"/>
<line x1="256.5" y1="105.5" x2="256.5" y2="140.8" stroke="#1f957f" stroke-width="1"/>
<rect x="255.2" y="114.8" width="2.6" height="15.799999999999997" fill="#1f957f"/>
<line x1="252.5" y1="103.0" x2="252.5" y2="138.0" stroke="#1f957f" stroke-width="1"/>
<rect x="251.2" y="113.8" width="2.6" height="18.799999999999997" fill="#1f957f"/>
<line x1="249.5" y1="132.6" x2="249.5" y2="158.0" stroke="#d24b5c" stroke-width="1"/>
<rect x="248.2" y="144.7" width="2.6" height="4.100000000000023" fill="#d24b5c"/>
<line x1="245.5" y1="135.0" x2="245.5" y2="158.0" stroke="#d24b5c" stroke-width="1"/>
<rect x="244.2" y="138.0" width="2.6" height="9.400000000000006" fill="#d24b5c"/>
<line x1="242.5" y1="88.0" x2="242.5" y2="140.7" stroke="#d24b5c" stroke-width="1"/>
<rect x="241.2" y="90.0" width="2.6" height="49.0" fill="#d24b5c"/>
<line x1="238.5" y1="70.8" x2="238.5" y2="97.6" stroke="#1f957f" stroke-width="1"/>
<rect x="237.2" y="90.0" width="2.6" height="2.0" fill="#1f957f"/>
<line x1="234.5" y1="54.0" x2="234.5" y2="97.6" stroke="#d24b5c" stroke-width="1"/>
<rect x="233.2" y="56.0" width="2.6" height="36.5" fill="#d24b5c"/>
<line x1="231.5" y1="43.0" x2="231.5" y2="88.3" stroke="#d24b5c" stroke-width="1"/>
<rect x="230.2" y="49.0" width="2.6" height="14.600000000000001" fill="#d24b5c"/>
<line x1="227.5" y1="35.7" x2="227.5" y2="99.7" stroke="#1f957f" stroke-width="1"/>
<rect x="226.2" y="48.0" width="2.6" height="41.400000000000006" fill="#1f957f"/>
<line x1="224.5" y1="74.0" x2="224.5" y2="112.0" stroke="#1f957f" stroke-width="1"/>
<rect x="223.2" y="94.5" width="2.6" height="14.5" fill="#1f957f"/>
<line x1="220.5" y1="20.0" x2="220.5" y2="108.0" stroke="#d24b5c" stroke-width="1"/>
<rect x="219.2" y="53.0" width="2.6" height="55.0" fill="#d24b5c"/>
<line x1="216.5" y1="51.0" x2="216.5" y2="126.0" stroke="#1f957f" stroke-width="1"/>
<rect x="215.2" y="55.0" width="2.6" height="49.0" fill="#1f957f"/>
<line x1="213.5" y1="56.0" x2="213.5" y2="132.6" stroke="#d24b5c" stroke-width="1"/>
<rect x="212.2" y="88.0" width="2.6" height="22.0" fill="#d24b5c"/>
<line x1="209.5" y1="88.0" x2="209.5" y2="166.0" stroke="#1f957f" stroke-width="1"/>
<rect x="208.2" y="90.5" width="2.6" height="65.0" fill="#1f957f"/>
<line x1="206.5" y1="118.0" x2="206.5" y2="220.0" stroke="#1f957f" stroke-width="1"/>
<rect x="205.2" y="161.0" width="2.6" height="43.0" fill="#1f957f"/>
<line x1="202.5" y1="202.4" x2="202.5" y2="249.0" stroke="#1f957f" stroke-width="1"/>
<rect x="201.2" y="215.5" width="2.6" height="12.099999999999994" fill="#1f957f"/>
<line x1="199.5" y1="226.6" x2="199.5" y2="259.0" stroke="#1f957f" stroke-width="1"/>
<rect x="198.2" y="236.0" width="2.6" height="20.399999999999977" fill="#1f957f"/>
<line x1="195.5" y1="250.8" x2="195.5" y2="277.8" stroke="#1f957f" stroke-width="1"/>
<rect x="194.2" y="257.3" width="2.6" height="19.599999999999966" fill="#1f957f"/>
<line x1="191.5" y1="267.6" x2="191.5" y2="276.9" stroke="#d24b5c" stroke-width="1"/>
<rect x="190.2" y="268.5" width="2.6" height="7.5" fill="#d24b5c"/>
<line x1="188.5" y1="256.4" x2="188.5" y2="276.9" stroke="#d24b5c" stroke-width="1"/>
<rect x="187.2" y="257.3" width="2.6" height="12.099999999999966" fill="#d24b5c"/>
<line x1="184.5" y1="250.0" x2="184.5" y2="266.6" stroke="#d24b5c" stroke-width="1"/>
<rect x="183.2" y="255.5" width="2.6" height="5.5" fill="#d24b5c"/>
<line x1="181.5" y1="252.7" x2="181.5" y2="263.0" stroke="#d24b5c" stroke-width="1"/>
<rect x="180.2" y="254.5" width="2.6" height="4.699999999999989" fill="#d24b5c"/>
<line x1="177.5" y1="246.0" x2="177.5" y2="259.0" stroke="#d24b5c" stroke-width="1"/>
<rect x="176.2" y="249.0" width="2.6" height="9.0" fill="#d24b5c"/>
<line x1="174.5" y1="237.0" x2="174.5" y2="252.7" stroke="#d24b5c" stroke-width="1"/>
<rect x="173.2" y="241.9" width="2.6" height="9.799999999999983" fill="#d24b5c"/>
<line x1="170.5" y1="236.0" x2="170.5" y2="252.0" stroke="#1f957f" stroke-width="1"/>
<rect x="169.2" y="241.5" width="2.6" height="9.300000000000011" fill="#1f957f"/>
<line x1="166.5" y1="246.0" x2="166.5" y2="252.0" stroke="#1f957f" stroke-width="1"/>
<rect x="165.2" y="249.0" width="2.6" height="1.8000000000000114" fill="#1f957f"/>
<line x1="163.5" y1="244.0" x2="163.5" y2="253.6" stroke="#d24b5c" stroke-width="1"/>
<rect x="162.2" y="246.2" width="2.6" height="5.5" fill="#d24b5c"/>
<line x1="159.5" y1="239.6" x2="159.5" y2="251.0" stroke="#d24b5c" stroke-width="1"/>
<rect x="158.2" y="240.5" width="2.6" height="9.400000000000006" fill="#d24b5c"/>
<line x1="156.5" y1="228.5" x2="156.5" y2="242.4" stroke="#d24b5c" stroke-width="1"/>
<rect x="155.2" y="231.3" width="2.6" height="10.199999999999989" fill="#d24b5c"/>
<line x1="152.5" y1="226.6" x2="152.5" y2="242.4" stroke="#1f957f" stroke-width="1"/>
<rect x="151.2" y="231.3" width="2.6" height="7.399999999999977" fill="#1f957f"/>
<line x1="149.5" y1="225.7" x2="149.5" y2="246.0" stroke="#1f957f" stroke-width="1"/>
<rect x="148.2" y="240.5" width="2.6" height="5.5" fill="#1f957f"/>
<line x1="145.5" y1="229.0" x2="145.5" y2="251.0" stroke="#1f957f" stroke-width="1"/>
<rect x="144.2" y="243.7" width="2.6" height="6.700000000000017" fill="#1f957f"/>
<line x1="141.5" y1="237.8" x2="141.5" y2="249.0" stroke="#d24b5c" stroke-width="1"/>
<rect x="140.2" y="240.5" width="2.6" height="8.099999999999994" fill="#d24b5c"/>
<line x1="138.5" y1="235.0" x2="138.5" y2="245.0" stroke="#d24b5c" stroke-width="1"/>
<rect x="137.2" y="239.6" width="2.6" height="4.099999999999994" fill="#d24b5c"/>
<line x1="134.5" y1="235.0" x2="134.5" y2="241.5" stroke="#1f957f" stroke-width="1"/>
<rect x="133.2" y="236.0" width="2.6" height="4.0" fill="#1f957f"/>
<line x1="131.5" y1="236.0" x2="131.5" y2="243.4" stroke="#d24b5c" stroke-width="1"/>
<rect x="130.2" y="237.0" width="2.6" height="5.0" fill="#d24b5c"/>
<line x1="127.5" y1="230.0" x2="127.5" y2="239.6" stroke="#d24b5c" stroke-width="1"/>
<rect x="126.2" y="232.0" width="2.6" height="6.0" fill="#d24b5c"/>
<line x1="124.5" y1="212.7" x2="124.5" y2="236.0" stroke="#d24b5c" stroke-width="1"/>
<rect x="123.2" y="222.0" width="2.6" height="13.0" fill="#d24b5c"/>
<line x1="120.5" y1="221.0" x2="120.5" y2="238.0" stroke="#1f957f" stroke-width="1"/>
<rect x="119.2" y="222.0" width="2.6" height="12.0" fill="#1f957f"/>
<line x1="116.5" y1="230.0" x2="116.5" y2="241.5" stroke="#d24b5c" stroke-width="1"/>
<rect x="115.2" y="232.0" width="2.6" height="4.900000000000006" fill="#d24b5c"/>
<line x1="113.5" y1="221.0" x2="113.5" y2="239.6" stroke="#d24b5c" stroke-width="1"/>
<rect x="112.2" y="222.0" width="2.6" height="16.69999999999999" fill="#d24b5c"/>
<line x1="109.5" y1="206.0" x2="109.5" y2="225.0" stroke="#d24b5c" stroke-width="1"/>
<rect x="108.2" y="208.0" width="2.6" height="15.800000000000011" fill="#d24b5c"/>
<line x1="106.5" y1="201.5" x2="106.5" y2="219.0" stroke="#1f957f" stroke-width="1"/>
<rect x="105.2" y="210.0" width="2.6" height="3.5999999999999943" fill="#1f957f"/>
<line x1="102.5" y1="214.5" x2="102.5" y2="227.6" stroke="#1f957f" stroke-width="1"/>
<rect x="101.2" y="214.5" width="2.6" height="12.099999999999994" fill="#1f957f"/>
<line x1="99.5" y1="217.0" x2="99.5" y2="237.0" stroke="#1f957f" stroke-width="1"/>
<rect x="98.2" y="225.7" width="2.6" height="10.300000000000011" fill="#1f957f"/>
<line x1="95.5" y1="218.0" x2="95.5" y2="239.6" stroke="#1f957f" stroke-width="1"/>
<rect x="94.2" y="233.0" width="2.6" height="5.699999999999989" fill="#1f957f"/>
<line x1="91.5" y1="235.0" x2="91.5" y2="251.0" stroke="#1f957f" stroke-width="1"/>
<rect x="90.2" y="236.0" width="2.6" height="13.0" fill="#1f957f"/>
<line x1="88.5" y1="238.0" x2="88.5" y2="251.0" stroke="#d24b5c" stroke-width="1"/>
<rect x="87.2" y="238.7" width="2.6" height="10.300000000000011" fill="#d24b5c"/>
<line x1="84.5" y1="236.0" x2="84.5" y2="244.0" stroke="#d24b5c" stroke-width="1"/>
<rect x="83.2" y="238.0" width="2.6" height="3.0" fill="#d24b5c"/>
<line x1="81.5" y1="229.0" x2="81.5" y2="251.0" stroke="#1f957f" stroke-width="1"/>
<rect x="80.2" y="239.6" width="2.6" height="1" fill="#1f957f"/>
<line x1="77.5" y1="234.0" x2="77.5" y2="245.0" stroke="#d24b5c" stroke-width="1"/>
<rect x="76.2" y="235.0" width="2.6" height="7.400000000000006" fill="#d24b5c"/>
<line x1="74.5" y1="232.0" x2="74.5" y2="249.0" stroke="#1f957f" stroke-width="1"/>
<rect x="73.2" y="233.0" width="2.6" height="15.0" fill="#1f957f"/>
<line x1="70.5" y1="245.0" x2="70.5" y2="262.0" stroke="#1f957f" stroke-width="1"/>
<rect x="69.2" y="247.0" width="2.6" height="14.0" fill="#1f957f"/>
<line x1="66.5" y1="239.6" x2="66.5" y2="259.0" stroke="#d24b5c" stroke-width="1"/>
<rect x="65.2" y="240.5" width="2.6" height="17.5" fill="#d24b5c"/>
<line x1="63.5" y1="223.0" x2="63.5" y2="245.0" stroke="#1f957f" stroke-width="1"/>
<rect x="62.2" y="225.7" width="2.6" height="18.30000000000001" fill="#1f957f"/>
<line x1="59.5" y1="237.0" x2="59.5" y2="268.5" stroke="#1f957f" stroke-width="1"/>
<rect x="58.2" y="244.0" width="2.6" height="21.69999999999999" fill="#1f957f"/>
<line x1="56.5" y1="259.0" x2="56.5" y2="269.4" stroke="#d24b5c" stroke-width="1"/>
<rect x="55.2" y="260.0" width="2.6" height="6.600000000000023" fill="#d24b5c"/>
<line x1="52.5" y1="254.0" x2="52.5" y2="264.0" stroke="#1f957f" stroke-width="1"/>
<rect x="51.2" y="258.0" width="2.6" height="2.0" fill="#1f957f"/>
<line x1="49.5" y1="256.0" x2="49.5" y2="269.0" stroke="#1f957f" stroke-width="1"/>
<rect x="48.2" y="259.0" width="2.6" height="7.0" fill="#1f957f"/>
<line x1="45.5" y1="261.0" x2="45.5" y2="273.0" stroke="#1f957f" stroke-width="1"/>
<rect x="44.2" y="264.0" width="2.6" height="6.0" fill="#1f957f"/>
<line x1="41.5" y1="263.0" x2="41.5" y2="273.0" stroke="#1f957f" stroke-width="1"/>
<rect x="40.2" y="266.6" width="2.6" height="5.399999999999977" fill="#1f957f"/>
<line x1="38.5" y1="262.0" x2="38.5" y2="275.0" stroke="#d24b5c" stroke-width="1"/>
<rect x="37.2" y="264.7" width="2.6" height="9.300000000000011" fill="#d24b5c"/>
<line x1="34.5" y1="257.0" x2="34.5" y2="271.0" stroke="#d24b5c" stroke-width="1"/>
<rect x="33.2" y="260.0" width="2.6" height="10.0" fill="#d24b5c"/>
<line x1="31.5" y1="243.0" x2="31.5" y2="261.0" stroke="#d24b5c" stroke-width="1"/>
<rect x="30.2" y="244.0" width="2.6" height="16.0" fill="#d24b5c"/>
<line x1="27.5" y1="239.6" x2="27.5" y2="264.0" stroke="#1f957f" stroke-width="1"/>
<rect x="26.2" y="240.5" width="2.6" height="20.5" fill="#1f957f"/>
<line x1="24.5" y1="248.0" x2="24.5" y2="270.0" stroke="#d24b5c" stroke-width="1"/>
<rect x="23.2" y="250.8" width="2.6" height="12.199999999999989" fill="#d24b5c"/>
<line x1="20.5" y1="242.0" x2="20.5" y2="252.6" stroke="#d24b5c" stroke-width="1"/>
<rect x="19.2" y="243.0" width="2.6" height="7.800000000000011" fill="#d24b5c"/>
<line x1="16.5" y1="237.0" x2="16.5" y2="251.0" stroke="#d24b5c" stroke-width="1"/>
<rect x="15.2" y="241.0" width="2.6" height="5.0" fill="#d24b5c"/>
<line x1="13.5" y1="232.0" x2="13.5" y2="248.0" stroke="#d24b5c" stroke-width="1"/>
<rect x="12.2" y="239.6" width="2.6" height="6.400000000000006" fill="#d24b5c"/>
<line x1="9.5" y1="234.0" x2="9.5" y2="247.0" stroke="#1f957f" stroke-width="1"/>
<rect x="8.2" y="237.0" width="2.6" height="6.0" fill="#1f957f"/>
<line x1="6.5" y1="232.0" x2="6.5" y2="253.5" stroke="#1f957f" stroke-width="1"/>
<rect x="5.2" y="234.0" width="2.6" height="18.599999999999994" fill="#1f957f"/>
<line x1="524.3" y1="69.9" x2="998.1" y2="363.7" stroke="#88748e" stroke-width="1.3" stroke-dasharray="4.5 4.5"/>
<line x1="527.8" y1="81.4" x2="999.2" y2="378.8" stroke="#88748e" stroke-width="1.3" stroke-dasharray="4.5 4.5"/>
<line x1="873.6" y1="304.9" x2="1048" y2="304.9" stroke="#6f86cc" stroke-width="1.4"/>
<line x1="877" y1="315.5" x2="1048" y2="315.5" stroke="#4d5b80" stroke-width="1.2"/>
<line x1="902.7" y1="339.5" x2="1048" y2="339.5" stroke="#5468b0" stroke-width="1.2"/>
<line x1="5" y1="388.4" x2="1048" y2="388.4" stroke="#4d5b80" stroke-width="1.2"/>
<line x1="5" y1="390.5" x2="1048" y2="390.5" stroke="#6f7ca0" stroke-width="1" stroke-dasharray="1.2 1.8"/>
<rect x="966.5" y="397.4" width="81.5" height="2" fill="#c9d6f5" stroke="#5a72c8" stroke-width="1"/>
<line x1="5" y1="406.4" x2="1048" y2="406.4" stroke="#4d5b80" stroke-width="1.2"/>
<line x1="5" y1="409.4" x2="1048" y2="409.4" stroke="#8391b0" stroke-width="1.5"/>
</svg>

<!-- header -->
<div class="a" style="left:0;top:0;width:662px;height:21px;background:#fff"></div>

<svg class="a" style="left:0;top:0" width="30" height="22" viewBox="0 0 30 22">
 <defs><clipPath id="cr"><circle cx="21.6" cy="8.3" r="4.7"/></clipPath><clipPath id="cl"><circle cx="16" cy="13.3" r="4.7"/></clipPath></defs>
 <g clip-path="url(#cr)"><rect x="16" y="3" width="12" height="11" fill="#f4f4ee"/><rect x="16" y="3" width="3.4" height="11" fill="#3f8466"/><rect x="23.6" y="3" width="4" height="11" fill="#c8404f"/><circle cx="21.5" cy="8.3" r="0.9" fill="#9a8060"/></g>
 <circle cx="16" cy="13.3" r="4.9" fill="#fff"/>
 <g clip-path="url(#cl)"><rect x="10" y="8" width="12" height="11" fill="#fbf2f2"/><rect x="10" y="8" width="3.6" height="11" fill="#c8404f"/><rect x="18.4" y="8" width="4" height="11" fill="#c8404f"/><circle cx="16" cy="13.4" r="1.2" fill="#c25060"/></g>
</svg>
<div class="a" style="left:30.5px;top:4px;font-size:13px;line-height:15px;color:#131722;letter-spacing:0.3px">Canadian Dollar/Mexican Peso</div>
<div class="a" style="left:219.5px;top:4px;font-size:13px;line-height:15px;color:#131722">·</div>
<div class="a" style="left:229px;top:4px;font-size:13px;line-height:15px;color:#131722;letter-spacing:-0.5px;transform:scaleX(0.92);transform-origin:0 50%">1S</div>
<div class="a" style="left:244.6px;top:4px;font-size:13px;line-height:15px;color:#131722">·</div>
<div class="a" style="left:252.5px;top:4px;font-size:13px;line-height:15px;color:#131722;letter-spacing:-0.6px;transform:scaleX(0.955);transform-origin:0 50%">SAXO</div>
<div class="a" style="left:299px;top:3.4px;width:33px;height:14.8px;border-radius:7.4px;background:#fbe2ea;overflow:hidden">
  <div class="a" style="left:0;top:0;width:15.5px;height:15px;background:#dff3ee"></div>
  <div class="a" style="left:5px;top:4.3px;width:6.4px;height:6.4px;border-radius:3.2px;background:#17876f"></div>
  <div class="a" style="left:20.5px;top:-0.5px;font-size:13px;line-height:15px;color:#c4447a;font-weight:bold">≈</div>
</div>
<div class="a" style="left:346.5px;top:5.5px;font-size:11.5px;line-height:13px;color:#131722;letter-spacing:-0.25px"><span>O</span><span style="color:#089981">12.0829</span></div>
<div class="a" style="left:401.8px;top:5.5px;font-size:11.5px;line-height:13px;color:#131722;letter-spacing:-0.25px"><span>H</span><span style="color:#089981">12.1548</span></div>
<div class="a" style="left:456.3px;top:5.5px;font-size:11.5px;line-height:13px;color:#131722;letter-spacing:-0.25px"><span>L</span><span style="color:#089981">12.0391</span></div>
<div class="a" style="left:509.3px;top:5.5px;font-size:11.5px;line-height:13px;color:#131722;letter-spacing:-0.25px"><span>C</span><span style="color:#089981">12.1193</span></div>
<div class="a" style="left:563.3px;top:5.5px;font-size:11.5px;line-height:13px;color:#089981;letter-spacing:-0.25px">+0.0335</div>
<div class="a" style="left:608.1px;top:5.5px;font-size:11.5px;line-height:13px;color:#089981;letter-spacing:-0.25px">(+0.28%)</div>
<div class="a" style="left:11px;top:23.2px;width:27.8px;height:17px;border:1px solid #e0e3eb;border-radius:2px;box-sizing:border-box;background:#fff;box-shadow:0 1px 1px rgba(0,0,0,0.06)"></div>
<svg class="a" style="left:0;top:20px" width="40" height="22" viewBox="0 20 40 22"><path d="M17 30.9 L20.2 34 L23.4 30.9" fill="none" stroke="#131722" stroke-width="1.35"/><path d="M31.6 36.2 V29.2 L29.3 30.6" fill="none" stroke="#131722" stroke-width="1.3" stroke-linejoin="round"/></svg>


<!-- price axis -->
<div class="a" style="left:1052px;top:1.7px;width:42.5px;height:20.6px;border:1px solid #e8e9ec;border-radius:3px;box-sizing:border-box;background:#fff"></div>
<div class="a" style="left:1055.2px;top:6px;font-size:10.5px;line-height:12px;color:#131722;letter-spacing:-0.3px">MXN</div>
<svg class="a" style="left:1085px;top:9px" width="8" height="6" viewBox="0 0 8 6"><path d="M2 2 L4 4 L6 2" fill="none" stroke="#131722" stroke-width="1"/></svg>
<div class="py" style="top:25.2px">18.0000</div>
<div class="py" style="top:55.7px">17.5000</div>
<div class="py" style="top:86.3px">17.0000</div>
<div class="py" style="top:116.8px">16.5000</div>
<div class="py" style="top:147.3px">16.0000</div>
<div class="py" style="top:177.9px">15.5000</div>
<div class="py" style="top:208.4px">15.0000</div>
<div class="py" style="top:238.9px">14.5000</div>
<div class="py" style="top:269.5px">14.0000</div>
<div class="py" style="top:361.1px">12.5000</div>
<!-- label boxes -->
<div class="lab" style="top:257.4px;height:14.2px;line-height:14.2px"><span class="t">14.1745</span></div>
<div class="lab" style="top:293.3px;height:14.7px;line-height:14.7px"><span class="t">13.5240</span></div>
<div class="lab" style="top:308px;height:14.7px;line-height:14.7px"><span class="t">13.3526</span></div>
<div class="lab" style="top:332.9px;height:13.6px;line-height:13.6px"><span class="t">12.9439</span></div>
<div class="lab" style="top:368.3px;height:14.6px;line-height:14.6px"><span class="t">12.1528</span></div>
<div class="lab" style="top:382.9px;height:26.1px;background:#089981;line-height:14px"><div style="height:14px;padding-top:0.5px"><span class="t">12.1193</span></div><div style="height:12px;line-height:12px;margin-top:-2px;color:rgba(255,255,255,0.78)"><span class="t">4d 3h</span></div></div>
<div class="lab" style="top:409px;height:47.2px;line-height:14.7px;padding-top:0px"><div style="height:14.7px;margin-top:0.3px"><span class="t">12.0021</span></div><div style="height:14.7px"><span class="t">11.9696</span></div><div style="height:14.7px"><span class="t">11.8627</span></div></div>
<div class="a" style="left:1000.3px;top:383.2px;width:46.8px;height:14.2px;background:#089981;color:#fff;font-size:11px;line-height:14.2px;text-align:left;"><span style="display:inline-block;transform:scaleX(0.86);transform-origin:0 50%;padding-left:3.5px">CADMXN</span></div>

<!-- logo -->
<svg class="a" style="left:0;top:420px" width="44" height="30" viewBox="0 420 44 30">
 <path d="M13.9 431.4 H23.9 V444 H18.9 V436.2 H13.9 Z" fill="#131722"/>
 <circle cx="28.6" cy="433.8" r="2.4" fill="#131722"/>
 <path d="M33.1 431.4 H39.3 L34.9 444 H28.7 Z" fill="#131722"/>
</svg>
<div class="a" style="left:46px;top:426.5px;font-size:18px;line-height:22px;font-weight:bold;color:#131722;letter-spacing:-0.1px">TradingView</div>

<!-- time axis -->
<div class="ax" style="left:42px;top:462px;">Jun</div>
<div class="ax" style="left:153px;top:462px;font-weight:bold;">2020</div>
<div class="ax" style="left:228px;top:462px;">Jun</div>
<div class="ax" style="left:339px;top:462px;font-weight:bold;">2021</div>
<div class="ax" style="left:417px;top:462px;">Jun</div>
<div class="ax" style="left:524.5px;top:462px;font-weight:bold;">2022</div>
<div class="ax" style="left:603px;top:462px;">Jun</div>
<div class="ax" style="left:710.5px;top:462px;font-weight:bold;">2023</div>
<div class="ax" style="left:789px;top:462px;">Jun</div>
<div class="ax" style="left:897px;top:462px;font-weight:bold;">2024</div>
<div class="ax" style="left:975px;top:462px;">Jun</div>
<svg class="a" style="left:1065.4px;top:460.4px" width="17" height="17" viewBox="0 0 17 17">
 <path d="M14.8 8.5 L11.65 13.96 H5.35 L2.2 8.5 L5.35 3.04 H11.65 Z" fill="none" stroke="#131722" stroke-width="1.1" stroke-linejoin="round"/>
 <circle cx="8.5" cy="8.5" r="2" fill="none" stroke="#131722" stroke-width="1.1"/>
</svg>

</body></html>
